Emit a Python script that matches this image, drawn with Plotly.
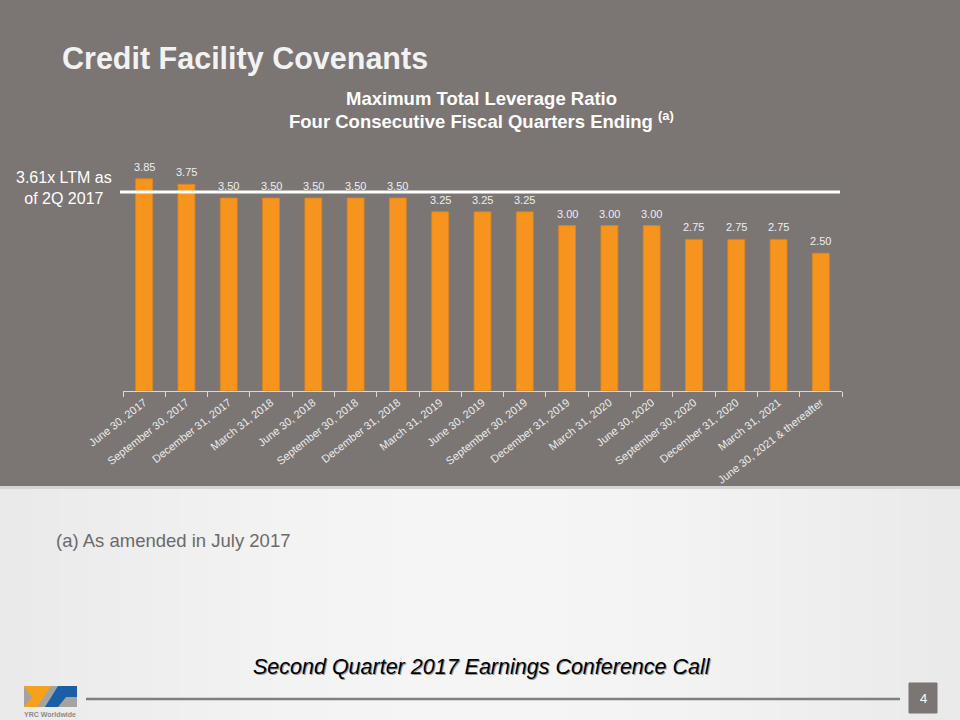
import math
import plotly.graph_objects as go

# ---- data ----
quarters = [
    "June 30, 2017", "September 30, 2017", "December 31, 2017", "March 31, 2018",
    "June 30, 2018", "September 30, 2018", "December 31, 2018", "March 31, 2019",
    "June 30, 2019", "September 30, 2019", "December 31, 2019", "March 31, 2020",
    "June 30, 2020", "September 30, 2020", "December 31, 2020", "March 31, 2021",
    "June 30, 2021 & thereafter",
]
max_leverage = [3.85, 3.75, 3.50, 3.50, 3.50, 3.50, 3.50, 3.25, 3.25, 3.25,
                3.00, 3.00, 3.00, 2.75, 2.75, 2.75, 2.50]
ltm_leverage = 3.61

# ---- layout geometry (pixels) ----
W, H = 960, 720
L, R, T, B = 123, 842, 160, 391


def PX(p):
    return (p - L) / (R - L)


def PY(p):
    return (B - p) / (B - T)


FONT = "Liberation Sans, Arial, sans-serif"
SLIDE_GRAY = "#7b7574"

fig = go.Figure()
fig.add_trace(go.Bar(
    x=quarters, y=max_leverage,
    width=0.4,
    marker=dict(color="#f7941d", line=dict(color="#dc8520", width=0.8)),
    hoverinfo="skip",
))

shapes = []
# subtle light gradient on the lower slide area
N = 32
for i in range(N):
    x0, x1 = W * i / N, W * (i + 1) / N
    c = int(round(233 + 12 * math.sin(math.pi * (x0 + x1) / 2 / W)))
    shapes.append(dict(type="rect", xref="paper", yref="paper", layer="below",
                       x0=PX(x0), x1=PX(x1 + 1), y0=PY(H), y1=PY(486),
                       fillcolor=f"rgb({c},{c},{c})", line=dict(width=0)))

shapes += [
    # dark top panel
    dict(type="rect", xref="paper", yref="paper", layer="below",
         x0=PX(0), x1=PX(W), y0=PY(486), y1=PY(0),
         fillcolor=SLIDE_GRAY, line=dict(width=0)),
    # soft shadow under panel
    dict(type="rect", xref="paper", yref="paper", layer="below",
         x0=PX(0), x1=PX(W), y0=PY(489), y1=PY(486),
         fillcolor="#d4d4d4", line=dict(width=0)),
    # LTM line
    dict(type="line", xref="paper", yref="y", layer="above",
         x0=PX(120), x1=PX(840), y0=ltm_leverage, y1=ltm_leverage,
         line=dict(color="white", width=3)),
    # footer rule
    dict(type="line", xref="paper", yref="paper",
         x0=PX(86), x1=PX(900), y0=PY(699), y1=PY(699),
         line=dict(color="#7f7f7f", width=2.5)),
    # page number box
    dict(type="rect", xref="paper", yref="paper",
         x0=PX(909), x1=PX(937), y0=PY(713), y1=PY(683),
         fillcolor=SLIDE_GRAY, line=dict(color=SLIDE_GRAY, width=1)),
    # logo background
    dict(type="rect", xref="paper", yref="paper",
         x0=PX(24), x1=PX(77), y0=PY(707), y1=PY(686),
         fillcolor="#a3a3a3", line=dict(width=0)),
]


def poly(points, color):
    d = "M " + " L ".join(f"{PX(x)},{PY(y)}" for x, y in points) + " Z"
    return dict(type="path", xref="paper", yref="paper", path=d,
                fillcolor=color, line=dict(width=0))


shapes.append(poly([(24, 686), (51, 686), (44, 697), (37, 707), (24, 707), (32, 697)], "#f7a01b"))
shapes.append(poly([(58, 686), (77, 686), (77, 697), (66, 697), (58, 707), (45, 707)], "#1b5ea8"))


def note(text, x, y, size, color, xanchor="center", **kw):
    return dict(text=text, x=PX(x), y=PY(y), xref="paper", yref="paper",
                xanchor=xanchor, yanchor="middle", showarrow=False,
                font=dict(family=FONT, size=size, color=color), **kw)


annotations = [
    note("<b>Credit Facility Covenants</b>", 60, 58, 30.5, "#f2f2f2", xanchor="left"),
    note("<b>Maximum Total Leverage Ratio</b>", 481, 99, 18.5, "#ffffff"),
    note("<b>Four Consecutive Fiscal Quarters Ending <sup>(a)</sup></b>", 481, 120, 18.5, "#ffffff"),
    note(f"{ltm_leverage:.2f}x LTM as<br>of 2Q 2017", 64, 188, 16, "#ffffff", align="center"),
    note("(a) As amended in July 2017", 54, 540, 18.5, "#6a6a6a", xanchor="left"),
    note("<i>Second Quarter 2017 Earnings Conference Call</i>", 483, 668, 21.5, "#9a9a9a"),
    note("<i>Second Quarter 2017 Earnings Conference Call</i>", 482, 667, 21.5, "#000000"),
    note("4", 923, 698, 13, "#ffffff"),
    note("<b>YRC Worldwide</b>", 50, 714, 7, "#8a8a8a"),
]

# value labels above bars, positioned by the data axes
for q, v in zip(quarters, max_leverage):
    annotations.append(dict(
        text=f"{v:.2f}", x=q, y=v, xref="x", yref="y",
        xanchor="center", yanchor="middle", yshift=12, showarrow=False,
        font=dict(family=FONT, size=11, color="#eeeeee"),
    ))

fig.update_layout(
    width=W, height=H,
    margin=dict(l=L, r=W - R, t=T, b=H - B, pad=0),
    paper_bgcolor="#f0f0f0",
    plot_bgcolor="rgba(0,0,0,0)",
    showlegend=False,
    shapes=shapes,
    annotations=annotations,
    xaxis=dict(
        type="category", range=[-0.5, len(quarters) - 0.5],
        showline=True, linecolor="#d9d9d9", linewidth=1,
        ticks="outside", ticklen=5, tickcolor="#d9d9d9", tickson="boundaries",
        tickangle=-38, showgrid=False, automargin=False,
        tickfont=dict(family=FONT, size=11, color="#ececec"),
    ),
    yaxis=dict(range=[0, 4.19], visible=False, showgrid=False),
)

fig.write_html("out.html", config={"displayModeBar": False},
               post_script="document.body.style.margin='0';")
